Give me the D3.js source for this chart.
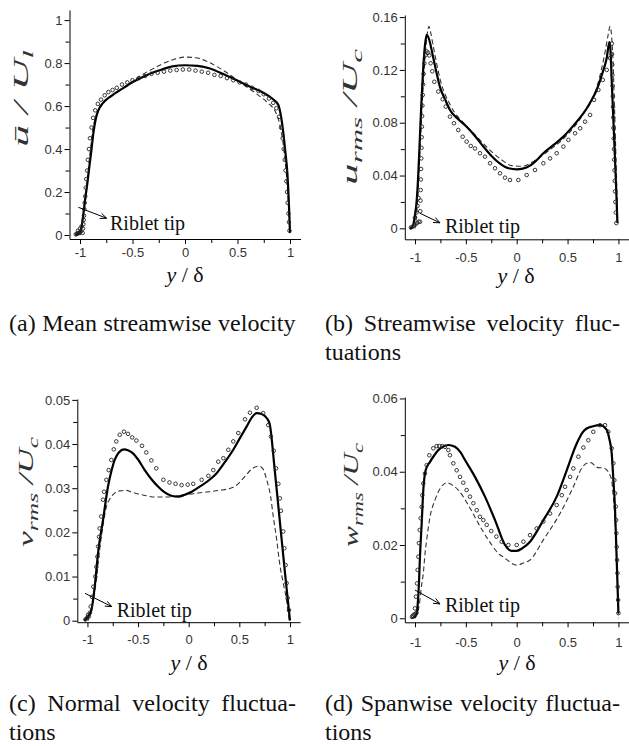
<!DOCTYPE html>
<html>
<head>
<meta charset="utf-8">
<script src="https://cdn.jsdelivr.net/npm/d3@7"></script>
<style>
  body { margin: 0; background: #fff; }
  svg { display: block; }
</style>
</head>
<body>
<div id="fig"></div>
<script>
// ---- data: [y/delta, value] ----
const xTicks = [-1, -0.5, 0, 0.5, 1];
const xMinor = [-0.75, -0.25, 0.25, 0.75];

// (a) mean streamwise velocity
const aYTicks = [0, 0.2, 0.4, 0.6, 0.8, 1];
const aYMinor = [0.1, 0.3, 0.5, 0.7, 0.9];
const aSolid = [[-1.045,0],[-1.0,0.015],[-0.984,0.04],[-0.965,0.11],[-0.952,0.163],[-0.93,0.24],[-0.911,0.318],[-0.89,0.4],[-0.873,0.473],[-0.85,0.54],[-0.825,0.58],[-0.78,0.615],[-0.714,0.643],[-0.6,0.68],[-0.492,0.713],[-0.36,0.745],[-0.238,0.767],[-0.12,0.785],[0,0.79],[0.12,0.787],[0.238,0.775],[0.36,0.75],[0.492,0.72],[0.62,0.69],[0.746,0.662],[0.83,0.635],[0.889,0.605],[0.915,0.55],[0.937,0.473],[0.955,0.39],[0.975,0.287],[0.99,0.14],[1.0,0.01]];
const aDashed = [[-1.0,0],[-0.975,0.06],[-0.95,0.15],[-0.925,0.28],[-0.9,0.4],[-0.875,0.5],[-0.85,0.55],[-0.8,0.6],[-0.7,0.645],[-0.6,0.678],[-0.5,0.715],[-0.4,0.748],[-0.3,0.775],[-0.2,0.8],[-0.1,0.818],[0,0.828],[0.1,0.825],[0.2,0.81],[0.3,0.785],[0.4,0.755],[0.5,0.72],[0.6,0.685],[0.7,0.65],[0.8,0.61],[0.86,0.575],[0.9,0.52],[0.93,0.44],[0.955,0.34],[0.975,0.22],[0.99,0.1],[1.0,0]];
const aCircles = [[-1.04,0.003],[-1.03,0.005],[-1.02,0.007],[-1.01,0.01],[-1.0,0.013],[-0.99,0.017],[-1.02,0.02],[-1.0,0.03],[-0.985,0.04],[-0.975,0.01],[-0.972,0.03],[-0.968,0.05],[-0.965,0.07],[-0.962,0.09],[-0.958,0.12],[-0.955,0.15],[-0.95,0.18],[-0.945,0.22],[-0.94,0.26],[-0.932,0.30],[-0.925,0.35],[-0.915,0.40],[-0.905,0.45],[-0.89,0.50],[-0.875,0.545],[-0.855,0.58],[-0.83,0.61],[-0.8,0.63],[-0.765,0.65],[-0.73,0.665],[-0.69,0.675],[-0.65,0.685],[-0.6,0.70],[-0.55,0.71],[-0.5,0.72],[-0.44,0.73],[-0.38,0.74],[-0.32,0.75],[-0.26,0.755],[-0.2,0.76],[-0.14,0.765],[-0.08,0.768],[-0.02,0.77],[0.04,0.77],[0.1,0.765],[0.16,0.76],[0.22,0.755],[0.28,0.745],[0.34,0.74],[0.4,0.73],[0.46,0.72],[0.52,0.71],[0.58,0.70],[0.64,0.685],[0.7,0.67],[0.75,0.655],[0.8,0.635],[0.84,0.615],[0.87,0.59],[0.895,0.55],[0.915,0.50],[0.93,0.45],[0.94,0.40],[0.95,0.35],[0.958,0.30],[0.965,0.25],[0.972,0.20],[0.978,0.15],[0.985,0.10],[0.99,0.06],[0.995,0.02]];

// (b) streamwise rms
const bYTicks = [0, 0.04, 0.08, 0.12, 0.16];
const bYMinor = [0.02, 0.06, 0.1, 0.14];
const bSolid = [[-1.05,0],[-1.03,0.0005],[-1.0,0.01],[-0.983,0.021],[-0.965,0.045],[-0.95,0.072],[-0.935,0.098],[-0.918,0.1225],[-0.9,0.14],[-0.885,0.1466],[-0.87,0.145],[-0.85,0.14],[-0.836,0.135],[-0.8,0.122],[-0.754,0.107],[-0.7,0.097],[-0.656,0.0897],[-0.58,0.083],[-0.492,0.077],[-0.41,0.07],[-0.328,0.062],[-0.25,0.055],[-0.164,0.049],[-0.08,0.0455],[0,0.0447],[0.06,0.0452],[0.131,0.0475],[0.2,0.052],[0.262,0.0569],[0.36,0.063],[0.459,0.0695],[0.56,0.078],[0.655,0.087],[0.72,0.095],[0.787,0.105],[0.84,0.117],[0.885,0.129],[0.911,0.141],[0.92,0.137],[0.935,0.11],[0.95,0.083],[0.965,0.055],[0.978,0.03],[0.99,0.004]];
const bDashed = [[-1.0,0],[-0.975,0.02],[-0.95,0.06],[-0.925,0.1],[-0.9,0.13],[-0.88,0.147],[-0.862,0.153],[-0.845,0.148],[-0.82,0.138],[-0.75,0.112],[-0.65,0.093],[-0.5,0.078],[-0.4,0.07],[-0.3,0.062],[-0.15,0.052],[-0.05,0.0475],[0.05,0.047],[0.15,0.05],[0.3,0.058],[0.5,0.071],[0.65,0.086],[0.78,0.105],[0.86,0.13],[0.9,0.147],[0.917,0.153],[0.93,0.148],[0.945,0.13],[0.96,0.095],[0.975,0.055],[0.99,0.01]];
const bCircles = [[-1.04,0.0006],[-1.025,0.0012],[-1.01,0.002],[-0.995,0.003],[-0.98,0.004],[-0.965,0.005],[-1.0,0.008],[-0.985,0.012],[-0.975,0.017],[-0.965,0.023],[-0.95,0.005],[-0.948,0.013],[-0.946,0.021],[-0.944,0.029],[-0.942,0.037],[-0.94,0.045],[-0.938,0.053],[-0.936,0.061],[-0.934,0.069],[-0.932,0.077],[-0.93,0.085],[-0.927,0.093],[-0.924,0.101],[-0.92,0.109],[-0.915,0.117],[-0.908,0.125],[-0.898,0.131],[-0.885,0.134],[-0.872,0.133],[-0.859,0.131],[-0.846,0.125],[-0.83,0.119],[-0.81,0.111],[-0.771,0.1036],[-0.728,0.0978],[-0.698,0.0922],[-0.656,0.0846],[-0.617,0.0796],[-0.574,0.0745],[-0.531,0.0694],[-0.492,0.0657],[-0.452,0.0624],[-0.41,0.0605],[-0.361,0.0569],[-0.312,0.0543],[-0.262,0.0493],[-0.213,0.0455],[-0.164,0.0417],[-0.115,0.0384],[-0.066,0.0366],[0.016,0.0366],[0.098,0.0404],[0.18,0.0442],[0.262,0.0493],[0.328,0.053],[0.393,0.0569],[0.459,0.0619],[0.508,0.067],[0.574,0.072],[0.623,0.0758],[0.672,0.0808],[0.721,0.0859],[0.76,0.0973],[0.803,0.1049],[0.846,0.1124],[0.885,0.12],[0.918,0.129],[0.935,0.14],[0.937,0.132],[0.939,0.124],[0.941,0.116],[0.943,0.108],[0.945,0.1],[0.947,0.092],[0.949,0.084],[0.951,0.076],[0.954,0.068],[0.956,0.06],[0.958,0.052],[0.961,0.044],[0.964,0.036],[0.967,0.028],[0.97,0.02],[0.974,0.012],[0.98,0.004]];

// (c) normal rms
const cYTicks = [0, 0.01, 0.02, 0.03, 0.04, 0.05];
const cYMinor = [0.005, 0.015, 0.025, 0.035, 0.045];
const cSolid = [[-1.03,0],[-1.0,0.0008],[-0.961,0.0024],[-0.928,0.0077],[-0.895,0.0153],[-0.846,0.0228],[-0.797,0.0304],[-0.76,0.0342],[-0.731,0.0364],[-0.69,0.0381],[-0.639,0.0388],[-0.6,0.0386],[-0.55,0.0379],[-0.5,0.0365],[-0.434,0.0341],[-0.37,0.0321],[-0.303,0.0304],[-0.24,0.0291],[-0.172,0.0283],[-0.1,0.0281],[-0.04,0.0285],[0.03,0.0292],[0.112,0.0304],[0.2,0.0318],[0.276,0.0334],[0.36,0.036],[0.44,0.0387],[0.51,0.0415],[0.573,0.044],[0.63,0.0462],[0.671,0.047],[0.72,0.0468],[0.77,0.0459],[0.8,0.0445],[0.85,0.034],[0.9,0.0225],[0.95,0.011],[1.0,0]];
const cDashed = [[-0.994,0],[-0.96,0.003],[-0.94,0.005],[-0.912,0.0092],[-0.89,0.014],[-0.863,0.019],[-0.84,0.0225],[-0.813,0.0258],[-0.78,0.0275],[-0.731,0.0289],[-0.68,0.0294],[-0.616,0.0295],[-0.56,0.0291],[-0.5,0.0287],[-0.42,0.0283],[-0.336,0.028],[-0.2,0.028],[-0.106,0.0283],[0,0.0286],[0.092,0.0289],[0.2,0.0292],[0.3,0.0295],[0.44,0.0302],[0.55,0.0325],[0.62,0.0343],[0.687,0.035],[0.73,0.0345],[0.77,0.0319],[0.809,0.0281],[0.835,0.0236],[0.869,0.0183],[0.901,0.0125],[0.934,0.0085],[0.967,0.0045],[0.993,0]];
const cCircles = [[-1.02,0.0003],[-1.005,0.0006],[-0.985,0.001],[-0.975,0.0018],[-0.994,0.0013],[-0.968,0.0032],[-0.955,0.0054],[-0.942,0.0077],[-0.922,0.01],[-0.912,0.0122],[-0.902,0.0145],[-0.895,0.0168],[-0.885,0.019],[-0.879,0.0209],[-0.863,0.0236],[-0.846,0.0274],[-0.836,0.0292],[-0.813,0.0319],[-0.79,0.0341],[-0.764,0.0364],[-0.74,0.0388],[-0.715,0.0406],[-0.681,0.0421],[-0.639,0.0428],[-0.599,0.0423],[-0.558,0.0415],[-0.517,0.0408],[-0.461,0.0396],[-0.419,0.0381],[-0.369,0.0363],[-0.32,0.0345],[-0.25,0.0319],[-0.19,0.0313],[-0.13,0.031],[-0.07,0.0307],[-0.01,0.0308],[0.045,0.031],[0.128,0.0319],[0.194,0.0328],[0.243,0.0341],[0.292,0.036],[0.342,0.0368],[0.391,0.0387],[0.44,0.0406],[0.49,0.0425],[0.556,0.0456],[0.605,0.0471],[0.671,0.0482],[0.736,0.047],[0.786,0.0443],[0.812,0.0417],[0.84,0.0385],[0.862,0.0345],[0.885,0.031],[0.901,0.0277],[0.911,0.0249],[0.934,0.0202],[0.944,0.0164],[0.957,0.0126],[0.967,0.0085],[0.977,0.0051],[0.99,0.0024]];

// (d) spanwise rms
const dYTicks = [0, 0.02, 0.04, 0.06];
const dYMinor = [0.01, 0.03, 0.05];
const dSolid = [[-1.035,0],[-1.0,0.0005],[-0.983,0.0014],[-0.97,0.005],[-0.961,0.0095],[-0.951,0.0168],[-0.934,0.0259],[-0.918,0.035],[-0.895,0.0404],[-0.852,0.0427],[-0.81,0.0445],[-0.771,0.0459],[-0.72,0.0469],[-0.672,0.0473],[-0.607,0.0468],[-0.55,0.0452],[-0.508,0.0432],[-0.41,0.0386],[-0.312,0.0332],[-0.213,0.0268],[-0.115,0.02],[-0.05,0.0184],[0,0.0184],[0.06,0.0192],[0.131,0.0209],[0.262,0.0268],[0.393,0.0332],[0.492,0.0404],[0.59,0.0477],[0.65,0.0508],[0.688,0.0518],[0.75,0.0524],[0.819,0.0527],[0.885,0.0514],[0.91,0.049],[0.934,0.045],[0.95,0.038],[0.967,0.0295],[0.983,0.0159],[1.0,0.0014]];
const dDashed = [[-1.0,0],[-0.97,0.002],[-0.951,0.005],[-0.935,0.009],[-0.918,0.0123],[-0.9,0.018],[-0.885,0.0214],[-0.852,0.0277],[-0.803,0.0323],[-0.75,0.0355],[-0.688,0.037],[-0.63,0.0363],[-0.574,0.035],[-0.476,0.0309],[-0.377,0.0259],[-0.279,0.0214],[-0.18,0.0177],[-0.115,0.0164],[-0.05,0.015],[0,0.0145],[0.06,0.015],[0.131,0.0159],[0.262,0.0214],[0.426,0.0286],[0.557,0.0359],[0.64,0.041],[0.688,0.0423],[0.73,0.0425],[0.787,0.0412],[0.86,0.041],[0.885,0.0405],[0.91,0.0395],[0.934,0.0375],[0.95,0.033],[0.967,0.0265],[0.983,0.016],[0.99,0.0113],[1.0,0]];
const dCircles = [[-1.03,0.0004],[-1.02,0.0007],[-1.01,0.001],[-0.995,0.0012],[-0.985,0.0015],[-1.0,0.0027],[-0.99,0.0059],[-0.98,0.0095],[-0.974,0.0132],[-0.967,0.0168],[-0.961,0.0205],[-0.954,0.0241],[-0.944,0.0273],[-0.934,0.0304],[-0.928,0.0336],[-0.918,0.0368],[-0.902,0.0395],[-0.885,0.0418],[-0.859,0.0445],[-0.82,0.0464],[-0.787,0.047],[-0.76,0.047],[-0.731,0.047],[-0.705,0.0468],[-0.672,0.0459],[-0.656,0.0445],[-0.623,0.0423],[-0.59,0.0404],[-0.557,0.0386],[-0.525,0.037],[-0.492,0.035],[-0.459,0.0332],[-0.426,0.0314],[-0.393,0.0295],[-0.361,0.0277],[-0.328,0.0268],[-0.295,0.0255],[-0.25,0.0238],[-0.2,0.0223],[-0.148,0.0209],[-0.082,0.02],[0,0.02],[0.066,0.0209],[0.131,0.0227],[0.197,0.0245],[0.262,0.0264],[0.328,0.0286],[0.393,0.0309],[0.443,0.0336],[0.475,0.0359],[0.525,0.0386],[0.557,0.0409],[0.606,0.0441],[0.655,0.0466],[0.704,0.0486],[0.753,0.0509],[0.819,0.0527],[0.868,0.0527],[0.9,0.0509],[0.934,0.0464],[0.95,0.0423],[0.96,0.0377],[0.967,0.0341],[0.974,0.0305],[0.977,0.0268],[0.98,0.0232],[0.983,0.0195],[0.987,0.0159],[0.99,0.0123],[0.993,0.0086],[0.997,0.005],[1.0,0.0014]];

// axis titles and captions
const aYLabel = [["ū", ""], [" / U", ""], ["l", "sub"]];
const bYLabel = [["u", ""], ["rms", "sub"], [" /U", ""], ["c", "sub"]];
const cYLabel = [["v", ""], ["rms", "sub"], [" /U", ""], ["c", "sub"]];
const dYLabel = [["w", ""], ["rms", "sub"], [" /U", ""], ["c", "sub"]];
const noteText = "Riblet tip";
const captionA = ["(a)  Mean streamwise velocity"];
const captionB = ["(b) Streamwise velocity fluc-", "tuations"];
const captionC = ["(c) Normal velocity fluctua-", "tions"];
const captionD = ["(d) Spanwise velocity fluctua-", "tions"];

const SERIF = "'Liberation Serif','Times New Roman',Times,serif";
const SANS = "'Liberation Sans',Arial,Helvetica,sans-serif";

const svg = d3.select("#fig").append("svg").attr("width", 629).attr("height", 746);

const panels = [
  { solid: aSolid, dashed: aDashed, circles: aCircles, yTicks: aYTicks, yMinor: aYMinor, yLabel: aYLabel,
    xRange: [69.5, 300.5], yDomain: [-0.0186, 1.047], yRange: [239, 10], xPad: 4,
    yTitle: [28, 98.5, 97], xTitle: [185, 282], arrow: [[-1.016, 0.129], [-0.746, 0.078]], note: [-0.714, 0.023] },
  { solid: bSolid, dashed: bDashed, circles: bCircles, yTicks: bYTicks, yMinor: bYMinor, yLabel: bYLabel,
    xRange: [404.8, 628.6], yDomain: [-0.0083, 0.1616], yRange: [239.3, 15], xPad: 8,
    yTitle: [357, 117, 136], xTitle: [516, 283], arrow: [[-0.951, 0.0114], [-0.754, 0.0042]], note: [-0.705, -0.0036] },
  { solid: cSolid, dashed: cDashed, circles: cCircles, yTicks: cYTicks, yMinor: cYMinor, yLabel: cYLabel,
    xRange: [77.3, 300.1], yDomain: [-0.00034, 0.0502], yRange: [622.2, 399], xPad: 8,
    yTitle: [33, 492, 110], xTitle: [189, 670], arrow: [[-1.024, 0.0062], [-0.76, 0.0032]], note: [-0.711, 0.0009] },
  { solid: dSolid, dashed: dDashed, circles: dCircles, yTicks: dYTicks, yMinor: dYMinor, yLabel: dYLabel,
    xRange: [404.8, 628.6], yDomain: [-0.0011, 0.0604], yRange: [622.3, 397], xPad: 10,
    yTitle: [358, 495, 104], xTitle: [517, 670], arrow: [[-1.0, 0.0077], [-0.754, 0.0039]], note: [-0.705, 0.0018] }
];

function styleAxis(sel) {
  sel.select(".domain").attr("stroke", "#000").attr("stroke-width", 1);
  sel.selectAll(".tick line").attr("stroke", "#000").attr("stroke-width", 1);
  sel.selectAll(".tick text").attr("fill", "#333").style("font-family", SANS).style("font-size", "13px");
}

function drawPanel(p) {
  const x = d3.scaleLinear().domain([-1.1, 1.1]).range(p.xRange);
  const y = d3.scaleLinear().domain(p.yDomain).range(p.yRange);
  const g = svg.append("g");
  const fmt = d => String(d);

  // x axis, major + minor
  g.append("g").attr("transform", `translate(0,${p.yRange[0]})`)
    .call(d3.axisBottom(x).tickValues(xMinor).tickFormat("").tickSize(4).tickSizeOuter(0))
    .call(s => s.select(".domain").remove()).call(styleAxis);
  g.append("g").attr("transform", `translate(0,${p.yRange[0]})`)
    .call(d3.axisBottom(x).tickValues(xTicks).tickFormat(fmt).tickSize(5).tickSizeOuter(0).tickPadding(p.xPad))
    .call(styleAxis);

  // y axis, major + minor
  g.append("g").attr("transform", `translate(${p.xRange[0]},0)`)
    .call(d3.axisLeft(y).tickValues(p.yMinor).tickFormat("").tickSize(4).tickSizeOuter(0))
    .call(s => s.select(".domain").remove()).call(styleAxis);
  g.append("g").attr("transform", `translate(${p.xRange[0]},0)`)
    .call(d3.axisLeft(y).tickValues(p.yTicks).tickFormat(fmt).tickSize(5).tickSizeOuter(0).tickPadding(2))
    .call(styleAxis);

  const line = d3.line().x(d => x(d[0])).y(d => y(d[1])).curve(d3.curveMonotoneX);

  g.append("path").datum(p.dashed).attr("d", line)
    .attr("fill", "none").attr("stroke", "#333").attr("stroke-width", 1.1).attr("stroke-dasharray", "5,3");
  g.append("path").datum(p.solid).attr("d", line)
    .attr("fill", "none").attr("stroke", "#000").attr("stroke-width", 2.2).attr("stroke-linejoin", "round");
  g.selectAll("circle.pt").data(p.circles).join("circle").attr("class", "pt")
    .attr("cx", d => x(d[0])).attr("cy", d => y(d[1])).attr("r", 1.8)
    .attr("fill", "none").attr("stroke", "#222").attr("stroke-width", 0.9);

  // riblet tip arrow
  const [a0, a1] = p.arrow;
  const x0 = x(a0[0]), y0 = y(a0[1]), x1 = x(a1[0]), y1 = y(a1[1]);
  const ang = Math.atan2(y1 - y0, x1 - x0), hl = 7;
  g.append("path")
    .attr("d", `M${x0},${y0}L${x1},${y1}` +
      `M${x1 - hl * Math.cos(ang - 0.4)},${y1 - hl * Math.sin(ang - 0.4)}L${x1},${y1}` +
      `L${x1 - hl * Math.cos(ang + 0.4)},${y1 - hl * Math.sin(ang + 0.4)}`)
    .attr("fill", "none").attr("stroke", "#000").attr("stroke-width", 1);
  g.append("text").attr("x", x(p.note[0])).attr("y", y(p.note[1]))
    .style("font-family", SERIF).style("font-size", "20px").attr("fill", "#111").text(noteText);

  // y title: rotated, stretched along its length like the original
  const yt = g.append("text")
    .attr("text-anchor", "middle").attr("fill", "#333")
    .style("font-family", SERIF).style("font-style", "italic").style("font-size", "21px");
  let shifted = false;
  p.yLabel.forEach(([s, kind]) => {
    const t = yt.append("tspan").text(s);
    if (kind === "sub") { t.attr("dy", 5).style("font-size", "15px"); shifted = true; }
    else if (shifted) { t.attr("dy", -5); shifted = false; }
  });
  const natural = yt.node().getComputedTextLength();
  const sx = p.yTitle[2] / natural;
  yt.attr("transform", `translate(${p.yTitle[0]},${p.yTitle[1]}) rotate(-90) scale(${sx},1)`);

  const xt = g.append("text").attr("x", p.xTitle[0]).attr("y", p.xTitle[1])
    .attr("text-anchor", "middle").attr("fill", "#111")
    .style("font-family", SERIF).style("font-size", "22px");
  xt.append("tspan").style("font-style", "italic").text("y");
  xt.append("tspan").text(" / δ");
}

panels.forEach(drawPanel);

// captions (first lines justified to the column width)
const captions = [
  { lines: captionA, x: 9, y: 331, w: 287 },
  { lines: captionB, x: 325, y: 331, w: 295 },
  { lines: captionC, x: 9, y: 711, w: 287 },
  { lines: captionD, x: 325, y: 711, w: 295 }
];
captions.forEach(c => {
  c.lines.forEach((s, i) => {
    const t = svg.append("text").attr("x", c.x).attr("y", c.y + i * 29)
      .attr("fill", "#111").style("font-family", SERIF).style("font-size", "24px").text(s);
    if (i === 0) {
      const w = t.node().getComputedTextLength();
      const n = (s.match(/ /g) || []).length;
      if (n > 0 && w < c.w) t.attr("word-spacing", (c.w - w) / n);
    }
  });
});
</script>
</body>
</html>
